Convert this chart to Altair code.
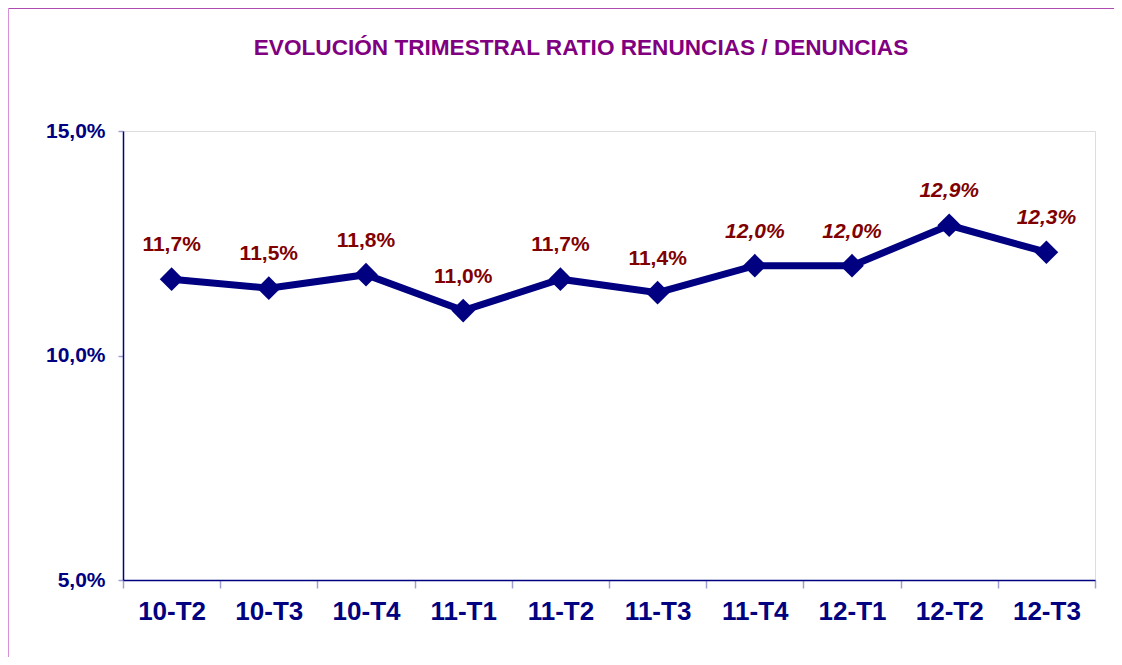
import altair as alt
import pandas as pd

quarters = ["10-T2", "10-T3", "10-T4", "11-T1", "11-T2", "11-T3", "11-T4", "12-T1", "12-T2", "12-T3"]
ratios = [11.7, 11.5, 11.8, 11.0, 11.7, 11.4, 12.0, 12.0, 12.9, 12.3]
italic_quarters = ["11-T4", "12-T1", "12-T2", "12-T3"]
y_ticks = [5, 10, 15]
title_text = "EVOLUCIÓN TRIMESTRAL RATIO RENUNCIAS / DENUNCIAS"

df = pd.DataFrame({"q": quarters, "r": ratios})

FONT = "Liberation Sans"
NAVY = "#000080"

x = alt.X(
    "q:N", sort=quarters,
    scale=alt.Scale(paddingInner=0, paddingOuter=0),
    axis=alt.Axis(title=None, labelAngle=0, labelFont=FONT, labelFontSize=26,
                  labelFontWeight="bold", labelColor=NAVY, domainColor=NAVY,
                  domainWidth=1.5, tickColor="#a0a0d0", tickSize=8, tickWidth=1.5,
                  tickBand="extent", labelPadding=10, grid=False),
)
y = alt.Y(
    "r:Q",
    scale=alt.Scale(domain=[5, 15], nice=False, zero=False),
    axis=alt.Axis(title=None, values=y_ticks, labelFont=FONT, labelFontSize=21,
                  labelFontWeight="bold", labelColor=NAVY, domainColor=NAVY,
                  domainWidth=1.5, tickColor="#a0a0d0", tickSize=5, tickWidth=1.5,
                  labelPadding=13, grid=False,
                  labelExpr="replace(format(datum.value, '.1f'), '.', ',') + '%'"),
)

base = alt.Chart(df)

line = base.mark_line(color=NAVY, strokeWidth=7).encode(x=x, y=y)
points = base.mark_point(shape="diamond", filled=True, size=560, color=NAVY, opacity=1).encode(x=x, y=y)

is_italic = alt.FieldOneOfPredicate(field="q", oneOf=italic_quarters)
lab_base = base.transform_calculate(
    label="replace(format(datum.r, '.1f'), '.', ',') + '%'"
)
text_kw = dict(dy=-28, baseline="alphabetic", font=FONT, fontSize=21, fontWeight="bold", color="#800000")
labels_normal = lab_base.transform_filter(alt.LogicalNotPredicate(**{"not": is_italic})).mark_text(
    fontStyle="normal", **text_kw).encode(x=x, y=y, text="label:N")
labels_italic = lab_base.transform_filter(is_italic).mark_text(
    fontStyle="italic", **text_kw).encode(x=x, y=y, text="label:N")

frame_data = pd.DataFrame({"a": [0]})
frame_top = alt.Chart(frame_data).mark_rule(color="#b04cb0", strokeWidth=1).encode(
    x=alt.value(-115), x2=alt.value(991), y=alt.value(-122.5))
frame_left = alt.Chart(frame_data).mark_rule(color="#d890d8", strokeWidth=1).encode(
    x=alt.value(-114.5), y=alt.value(-123), y2=alt.value(526))

chart = alt.layer(line, points, labels_normal, labels_italic, frame_top, frame_left).properties(
    width=972, height=449,
    autosize=alt.AutoSizeParams(type="none"),
    padding={"left": 115, "top": 123, "right": 19, "bottom": 77},
    title=alt.Title(title_text, font=FONT, fontSize=22.6, fontWeight="bold",
                    color="#800080", anchor="middle", dx=-28, offset=-52),
).configure_view(stroke="#c0c0c0", strokeWidth=1).configure(background="white")

chart.save("out.html", embed_options={"renderer": "svg", "actions": False})
